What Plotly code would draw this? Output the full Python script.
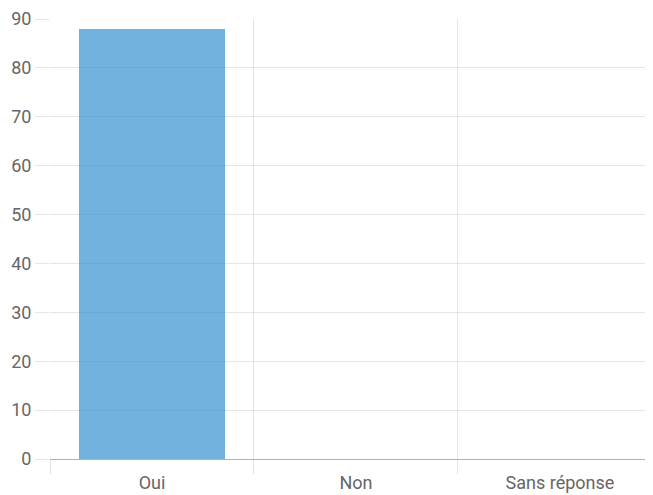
import plotly.graph_objects as go

categories = ["Oui", "Non", "Sans réponse"]
values = [88, 0, 0]
y_ticks = [0, 10, 20, 30, 40, 50, 60, 70, 80, 90]

grid = "rgba(0,0,0,0.1)"
font = dict(family="Roboto, Arial, sans-serif", size=18, color="#666666")

fig = go.Figure(
    go.Bar(
        x=categories,
        y=values,
        width=0.72,
        marker=dict(color="rgba(52,145,208,0.7)",
                    line=dict(width=0)),
        hoverinfo="x+y",
    )
)

fig.update_layout(
    width=645,
    height=487,
    margin=dict(l=42, r=0, t=11, b=36),
    paper_bgcolor="white",
    plot_bgcolor="white",
    font=font,
    showlegend=False,
    bargap=0,
)

fig.update_xaxes(
    type="category",
    range=[-0.5, 2.456],
    tickson="boundaries",
    ticks="outside",
    ticklen=14,
    tickcolor=grid,
    showgrid=True,
    gridcolor=grid,
    gridwidth=1,
    showline=False,
    zeroline=False,
    tickfont=font,
    ticklabelstandoff=11,
)

fig.update_yaxes(
    range=[0, 90],
    tickvals=y_ticks,
    ticks="outside",
    ticklen=14,
    tickcolor=grid,
    showgrid=True,
    gridcolor=grid,
    gridwidth=1,
    zeroline=True,
    zerolinecolor="rgba(0,0,0,0.3)",
    zerolinewidth=1,
    showline=False,
    tickfont=font,
)

fig.write_html("out.html")
